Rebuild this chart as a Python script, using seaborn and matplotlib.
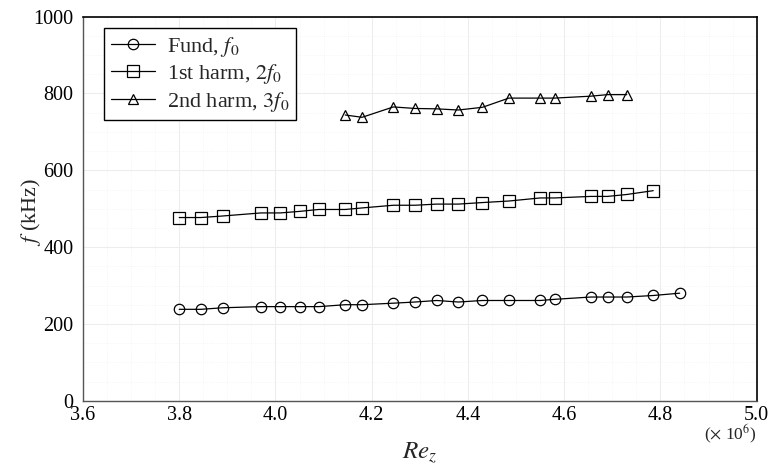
import numpy as np
import pandas as pd
import matplotlib
matplotlib.use("Agg")
import matplotlib.pyplot as plt
import seaborn as sns
from matplotlib.ticker import MultipleLocator, FormatStrFormatter

# ---- data (Re_z in units of 1e6, f in kHz) ----
re_fund = [3.80, 3.845, 3.89, 3.97, 4.01, 4.05, 4.09, 4.145, 4.18, 4.245, 4.29,
           4.335, 4.38, 4.43, 4.485, 4.55, 4.58, 4.655, 4.69, 4.73, 4.785, 4.84]
f_fund = [238, 238, 242, 245, 245, 245, 245, 250, 250, 254, 257,
          261, 257, 261, 261, 261, 264, 270, 270, 270, 274, 280]

re_h1 = [3.80, 3.845, 3.89, 3.97, 4.01, 4.05, 4.09, 4.145, 4.18, 4.245, 4.29,
         4.335, 4.38, 4.43, 4.485, 4.55, 4.58, 4.655, 4.69, 4.73, 4.785]
f_h1 = [477, 477, 481, 489, 489, 493, 498, 498, 502, 509, 509,
        512, 512, 516, 520, 528, 528, 532, 532, 537, 547]

re_h2 = [4.145, 4.18, 4.245, 4.29, 4.335, 4.38, 4.43, 4.485, 4.55, 4.58, 4.655, 4.69, 4.73]
f_h2 = [744, 738, 765, 761, 760, 757, 764, 788, 788, 788, 793, 797, 797]

labels = [r"Fund, $f_0$", r"1st harm, $2f_0$", r"2nd harm, $3f_0$"]
x_ticks = [3.6, 3.8, 4.0, 4.2, 4.4, 4.6, 4.8, 5.0]
y_ticks = [0, 200, 400, 600, 800, 1000]

sns.set_theme(style="white")
plt.rcParams["font.family"] = ["Liberation Serif", "DejaVu Serif"]
plt.rcParams["mathtext.fontset"] = "stix"

fig = plt.figure(figsize=(7.7, 4.7), dpi=100)
ax = fig.add_axes([0.1078, 0.1474, 0.8749, 0.8171])

series = [(re_fund, f_fund, "o", 7.5), (re_h1, f_h1, "s", 8.0), (re_h2, f_h2, "^", 6.5)]
for (xs, ys, m, ms), lab in zip(series, labels):
    sns.lineplot(x=xs, y=ys, ax=ax, color="black", linewidth=0.9, marker=m,
                 markersize=ms, markerfacecolor="none", markeredgecolor="black",
                 markeredgewidth=0.9, label=lab, sort=False, zorder=3)

ax.set_xlim(3.6, 5.0)
ax.set_ylim(0, 1000)
ax.set_xticks(x_ticks)
ax.set_yticks(y_ticks)
ax.xaxis.set_major_formatter(FormatStrFormatter("%.1f"))
ax.xaxis.set_minor_locator(MultipleLocator(0.05))
ax.yaxis.set_minor_locator(MultipleLocator(50))
ax.grid(True, which="major", color="#ededed", linewidth=0.8)
ax.grid(True, which="minor", color="#f3f3f3", linewidth=0.6, linestyle=":")
ax.tick_params(axis="both", which="both", length=0, labelsize=14.5, colors="black")
ax.tick_params(axis="y", pad=7)
ax.tick_params(axis="x", pad=4)

for side in ["top", "right"]:
    ax.spines[side].set_color("black")
    ax.spines[side].set_linewidth(1.2)
for side in ["left", "bottom"]:
    ax.spines[side].set_color("#555555")
    ax.spines[side].set_linewidth(1.0)

ax.set_xlabel(r"$Re_z$", fontsize=18, labelpad=11)
ax.set_ylabel(r"$f$ (kHz)", fontsize=16)
ax.yaxis.set_label_coords(-0.06, 0.491)
ax.text(1.0, -0.058, r"($\times$ 10$^6$)", transform=ax.transAxes,
        ha="right", va="top", fontsize=12.5)

leg = ax.legend(loc="upper left", bbox_to_anchor=(0.0316, 0.97), borderaxespad=0,
                fontsize=16, frameon=True, fancybox=False, handlelength=2.0,
                handletextpad=0.5, borderpad=0.3, labelspacing=0.15)
leg.get_frame().set_edgecolor("black")
leg.get_frame().set_linewidth(1.0)
leg.get_frame().set_alpha(1)

fig.savefig("out.png", dpi=100)
